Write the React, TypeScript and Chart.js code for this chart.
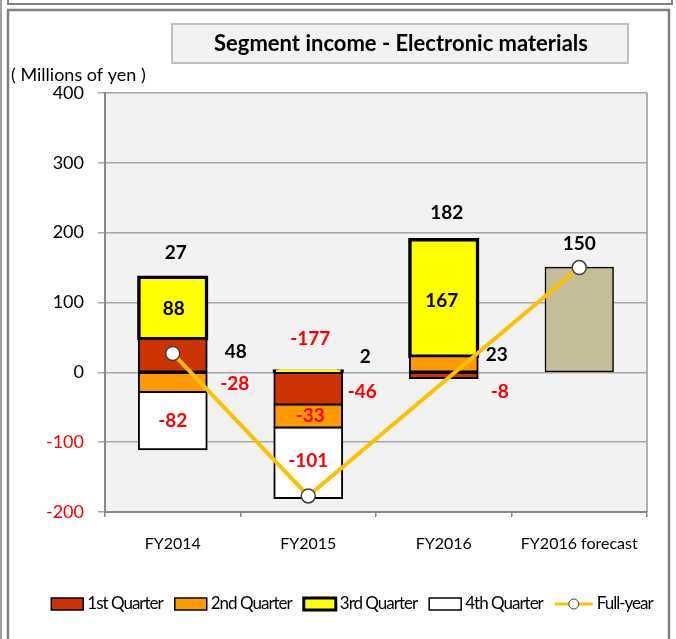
import React, { useEffect, useRef } from 'react';
import { Chart, registerables } from 'chart.js';

Chart.register(...registerables);

// ---- data ----
const categories = ['FY2014', 'FY2015', 'FY2016', 'FY2016 forecast'];
const q1Values: (number | null)[] = [48, -46, -8, null];
const q2Values: (number | null)[] = [-28, -33, 23, null];
const q3Values: (number | null)[] = [88, 2, 167, null];
const q4Values: (number | null)[] = [-82, -101, null, null];
const forecastValues: (number | null)[] = [null, null, null, 150];
const fullYearLine: (number | null)[] = [27, -177, null, 150];
const fullYearTotals: number[] = [27, -177, 182, 150];
const seriesNames = ['1st Quarter', '2nd Quarter', '3rd Quarter', '4th Quarter', 'Full-year'];
const titleText = 'Segment income - Electronic materials';
const unitText = '( Millions of yen )';
const yMin = -200;
const yMax = 400;
const yStep = 100;

// ---- styles ----
const FONT = 'Lato, "Open Sans", sans-serif';
const quarterColors = ['#cc3300', '#ff9900', '#ffff00', '#ffffff'];
const quarterBorderWidths = [2, 2, 3.5, 2];
const forecastColor = '#c4bd97';
const lineColor = '#ffc000';

// label offsets relative to segment centre (style only)
const segLabelOffsets = [
  [{ dx: 63, dy: -3 }, { dx: 54, dy: 3 }, { dx: 56, dy: 16 }, null],
  [{ dx: 62, dy: 1 }, { dx: 2, dy: 0 }, { dx: 53, dy: -9 }, null],
  [{ dx: 1, dy: 1 }, { dx: 57, dy: -14 }, { dx: -2, dy: 3 }, null],
  [{ dx: 0, dy: 0 }, { dx: 0, dy: -2 }, null, null],
];
const totalLabelOffsets = [
  { dx: 3, dy: -24 },
  { dx: 2, dy: -32 },
  { dx: 3, dy: -27 },
  { dx: 0, dy: -24 },
];

const quarterSeries = [q1Values, q2Values, q3Values, q4Values];

const framePlugin = {
  id: 'frame',
  beforeDraw(chart: any) {
    const ctx = chart.ctx as CanvasRenderingContext2D;
    const W = chart.width;
    const H = chart.height;
    ctx.save();
    ctx.fillStyle = '#ffffff';
    ctx.fillRect(0, 0, W, H);
    ctx.strokeStyle = '#808080';
    ctx.lineWidth = 1.5;
    ctx.beginPath();
    ctx.moveTo(1, 0);
    ctx.lineTo(1, H);
    ctx.stroke();
    ctx.lineWidth = 2;
    ctx.beginPath();
    ctx.moveTo(8, 0);
    ctx.lineTo(8, 4);
    ctx.lineTo(672, 4);
    ctx.lineTo(672, 0);
    ctx.stroke();
    ctx.lineWidth = 2.5;
    ctx.beginPath();
    ctx.moveTo(8, H + 2);
    ctx.lineTo(8, 10);
    ctx.lineTo(669, 10);
    ctx.lineTo(669, H + 2);
    ctx.stroke();
    // title box
    ctx.fillStyle = '#f2f2f2';
    ctx.fillRect(172, 24, 456, 39);
    ctx.strokeStyle = '#bfbfbf';
    ctx.lineWidth = 2;
    ctx.strokeRect(172, 24, 456, 39);
    ctx.fillStyle = '#000';
    ctx.font = `bold 22px ${FONT}`;
    ctx.textAlign = 'center';
    ctx.textBaseline = 'middle';
    ctx.fillText(titleText, 401, 44);
    // unit text
    ctx.font = `18px ${FONT}`;
    ctx.textAlign = 'left';
    ctx.fillText(unitText, 11, 75);
    // plot area background
    const a = chart.chartArea;
    if (a) {
      ctx.fillStyle = '#f2f2f2';
      ctx.fillRect(a.left, a.top, a.right - a.left, a.bottom - a.top);
      ctx.strokeStyle = '#999999';
      ctx.lineWidth = 1.5;
      ctx.beginPath();
      ctx.moveTo(a.right, a.top);
      ctx.lineTo(a.right, a.bottom);
      ctx.stroke();
    }
    ctx.restore();
  },
};

const labelPlugin = {
  id: 'labels',
  afterDatasetsDraw(chart: any) {
    const ctx = chart.ctx as CanvasRenderingContext2D;
    ctx.save();
    ctx.font = `bold 19px ${FONT}`;
    ctx.textAlign = 'center';
    ctx.textBaseline = 'middle';
    quarterSeries.forEach((vals, di) => {
      const meta = chart.getDatasetMeta(di);
      vals.forEach((v, i) => {
        const off = segLabelOffsets[di][i];
        if (v == null || !off) return;
        const el = meta.data[i];
        const x = el.x + off.dx;
        const y = (el.y + el.base) / 2 + off.dy;
        ctx.fillStyle = v < 0 ? '#ff0000' : '#000000';
        ctx.fillText(String(v), x, y);
      });
    });
    const yScale = chart.scales.y;
    const xScale = chart.scales.x;
    fullYearTotals.forEach((v, i) => {
      let top = 0;
      [...quarterSeries, forecastValues].forEach((arr) => {
        const val = arr[i];
        if (val != null && val > 0) top += val;
      });
      const off = totalLabelOffsets[i];
      const x = xScale.getPixelForValue(i) + off.dx;
      const y = yScale.getPixelForValue(top) + off.dy;
      ctx.fillStyle = v < 0 ? '#ff0000' : '#000000';
      ctx.fillText(String(v), x, y);
    });
    ctx.restore();
  },
};

const legendPlugin = {
  id: 'customLegend',
  afterDraw(chart: any) {
    const ctx = chart.ctx as CanvasRenderingContext2D;
    ctx.save();
    ctx.font = `17px ${FONT}`;
    (ctx as any).letterSpacing = '-1px';
    const boxW = 32;
    const lineW = 38;
    const gapText = 4;
    const gapItem = 12;
    const widths = seriesNames.map((n, i) => (i < 4 ? boxW : lineW) + gapText + ctx.measureText(n).width);
    const total = widths.reduce((s, w) => s + w, 0) + gapItem * (seriesNames.length - 1);
    let x = 352 - total / 2;
    const yc = 604;
    seriesNames.forEach((name, i) => {
      if (i < 4) {
        ctx.fillStyle = quarterColors[i];
        ctx.fillRect(x, yc - 6, boxW, 12);
        ctx.strokeStyle = '#000';
        ctx.lineWidth = i === 2 ? 3 : 1.5;
        ctx.strokeRect(x, yc - 6, boxW, 12);
        x += boxW + gapText;
      } else {
        ctx.strokeStyle = lineColor;
        ctx.lineWidth = 3;
        ctx.beginPath();
        ctx.moveTo(x, yc);
        ctx.lineTo(x + lineW, yc);
        ctx.stroke();
        ctx.beginPath();
        ctx.arc(x + lineW / 2, yc, 5, 0, Math.PI * 2);
        ctx.fillStyle = '#fff';
        ctx.fill();
        ctx.strokeStyle = '#404040';
        ctx.lineWidth = 1;
        ctx.stroke();
        x += lineW + gapText;
      }
      ctx.fillStyle = '#000';
      ctx.textAlign = 'left';
      ctx.textBaseline = 'middle';
      ctx.fillText(name, x, yc);
      x += ctx.measureText(name).width + gapItem;
    });
    ctx.restore();
  },
};

export default function App() {
  const canvasRef = useRef<HTMLCanvasElement | null>(null);

  useEffect(() => {
    if (!canvasRef.current) return;
    const barCommon = {
      type: 'bar' as const,
      borderColor: '#000000',
      borderSkipped: false,
      barPercentage: 0.5,
      categoryPercentage: 1,
      order: 1,
    };
    const chart = new Chart(canvasRef.current, {
      type: 'bar',
      data: {
        labels: categories,
        datasets: [
          ...quarterSeries.map((vals, i) => ({
            ...barCommon,
            label: seriesNames[i],
            data: vals,
            backgroundColor: quarterColors[i],
            borderWidth: quarterBorderWidths[i],
            inflateAmount: quarterBorderWidths[i] / 2,
          })),
          {
            ...barCommon,
            label: 'Forecast',
            data: forecastValues,
            backgroundColor: forecastColor,
            borderWidth: 1.5,
            inflateAmount: 0.75,
          },
          {
            type: 'line' as const,
            label: seriesNames[4],
            data: fullYearLine,
            borderColor: lineColor,
            borderWidth: 4,
            pointRadius: 7,
            pointBackgroundColor: '#ffffff',
            pointBorderColor: '#404040',
            pointBorderWidth: 1.5,
            spanGaps: true,
            order: 0,
            tension: 0,
          },
        ] as any,
      },
      options: {
        responsive: false,
        animation: false,
        layout: { padding: { left: 0, top: 93, right: 29, bottom: 87 } },
        plugins: {
          legend: { display: false },
          tooltip: { enabled: false },
          title: { display: false },
        },
        scales: {
          x: {
            stacked: true,
            offset: true,
            grid: {
              offset: true,
              drawOnChartArea: false,
              tickLength: 5,
              color: '#888888',
              lineWidth: 1.5,
            },
            border: { display: true, color: '#888888', width: 2 },
            ticks: {
              color: '#000',
              font: { family: FONT, size: 16 },
              padding: 17,
            },
            afterFit(scale: any) {
              scale.height = 40;
            },
          },
          y: {
            stacked: true,
            min: yMin,
            max: yMax,
            ticks: {
              stepSize: yStep,
              padding: 14,
              font: { family: FONT, size: 18 },
              color: (c: any) => (c.tick && c.tick.value < 0 ? '#ff0000' : '#000000'),
            },
            grid: {
              color: '#a6a6a6',
              lineWidth: 1.5,
              tickLength: 7,
            },
            border: { display: true, color: '#888888', width: 2 },
            afterFit(scale: any) {
              scale.width = 105;
            },
          },
        },
      },
      plugins: [framePlugin, labelPlugin, legendPlugin],
    } as any);
    return () => chart.destroy();
  }, []);

  return (
    <div style={{ position: 'absolute', left: 0, top: 0, width: 676, height: 639 }}>
      <canvas ref={canvasRef} width={676} height={639} style={{ display: 'block' }} />
    </div>
  );
}
